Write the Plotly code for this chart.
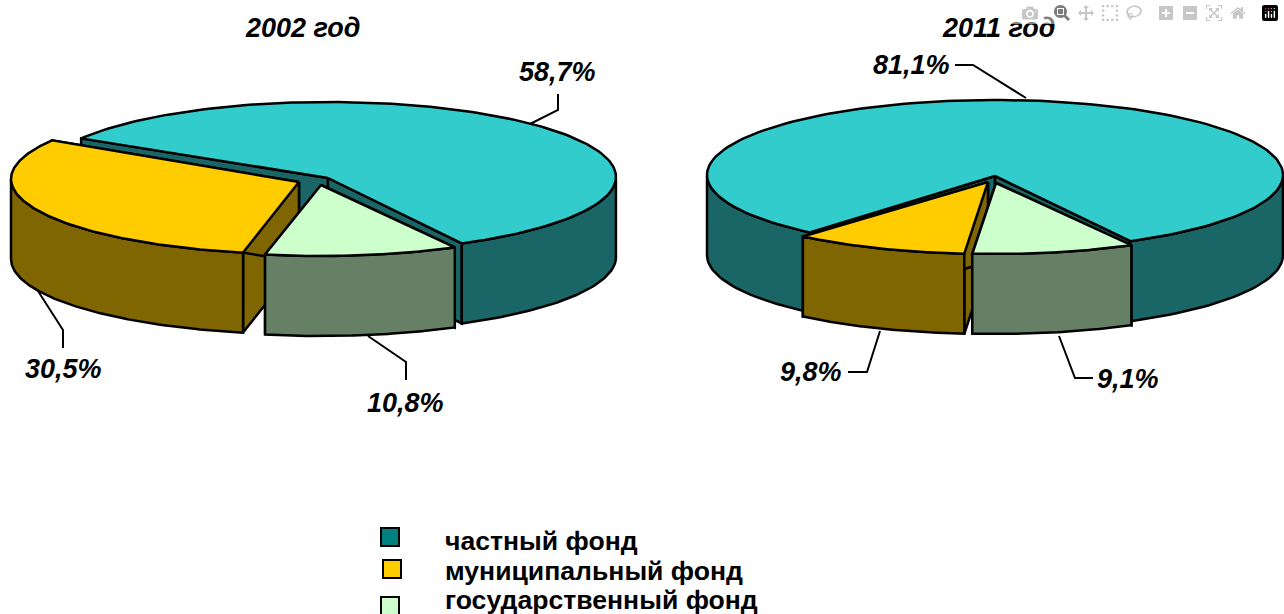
import numpy as np
import plotly.graph_objects as go

# shares in the order they run clockwise round each pie
names = ["частный фонд", "государственный фонд", "муниципальный фонд"]
shares_2002 = [58.7, 10.8, 30.5]
shares_2011 = [81.1, 9.1, 9.8]
titles = ["2002 год", "2011 год"]
legend_order = ["частный фонд", "муниципальный фонд", "государственный фонд"]

top_colors = {"частный фонд": "#33CCCC", "муниципальный фонд": "#FFCC00", "государственный фонд": "#CCFFCC"}
side_colors = {"частный фонд": "#1A6666", "муниципальный фонд": "#806600", "государственный фонд": "#668066"}
legend_colors = {"частный фонд": "#008080", "муниципальный фонд": "#FFCC00", "государственный фонд": "#CCFFCC"}

RX, RY, DEPTH = 288, 75, 80
LINE = 2.5


def pct(v):
    return f"{v:.1f}".replace(".", ",") + "%"


def add_poly(fig, xs, ys, color):
    fig.add_trace(go.Scatter(
        x=xs, y=ys, mode="lines", fill="toself", fillcolor=color,
        line=dict(color="black", width=LINE), hoverinfo="skip", showlegend=False
    ))


def draw_slice(fig, cx, cy, apex_y, t0, t1, name):
    # t0 > t1, degrees, going clockwise on the projected ellipse
    t = np.radians(np.linspace(t0, t1, 160))
    rim_x = cx + RX * np.cos(t)
    rim_y = cy - RY * np.sin(t)

    # flat cut faces first, the covering pieces come later
    for i in (0, -1):
        add_poly(fig, [cx, rim_x[i], rim_x[i], cx, cx],
                 [apex_y, rim_y[i], rim_y[i] + DEPTH, apex_y + DEPTH, apex_y],
                 side_colors[name])

    # outer wall, only where the rim faces the viewer
    front = np.sin(t) < 0
    idx = np.where(front)[0]
    if len(idx):
        runs = np.split(idx, np.where(np.diff(idx) > 1)[0] + 1)
        for run in runs:
            xs = np.concatenate([rim_x[run], rim_x[run][::-1], rim_x[run][:1]])
            ys = np.concatenate([rim_y[run], rim_y[run][::-1] + DEPTH, rim_y[run][:1]])
            add_poly(fig, xs, ys, side_colors[name])

    add_poly(fig, np.concatenate([[cx], rim_x, [cx]]),
             np.concatenate([[apex_y], rim_y, [apex_y]]), top_colors[name])


def draw_pie(fig, shares, start, geometry):
    spans = {}
    t = start
    for name, share in zip(names, shares):
        spans[name] = (t, t - share * 3.6)
        t -= share * 3.6
    # back piece first, the pulled-out ones sit in front of it
    for name in ["частный фонд", "муниципальный фонд", "государственный фонд"]:
        cx, cy, apex_y = geometry[name]
        draw_slice(fig, cx, cy, apex_y, spans[name][0], spans[name][1], name)


fig = go.Figure()

draw_pie(fig, shares_2002, 149, {
    "частный фонд": (328, 177, 178),
    "муниципальный фонд": (299, 179, 182),
    "государственный фонд": (321, 181, 185),
})
draw_pie(fig, shares_2011, 230, {
    "частный фонд": (995, 175, 176),
    "муниципальный фонд": (988, 179, 182),
    "государственный фонд": (996, 179, 183),
})

# leader lines from the slices to their labels
leaders = [
    ([530, 558, 558], [124, 110, 94]),
    ([38, 63, 63], [291, 330, 348]),
    ([368, 406, 406], [336, 362, 380]),
    ([1026, 973, 955], [98, 65, 65]),
    ([880, 867, 848], [331, 372, 372]),
    ([1059, 1075, 1093], [336, 378, 378]),
]
for lx, ly in leaders:
    fig.add_trace(go.Scatter(x=lx, y=ly, mode="lines", line=dict(color="black", width=2),
                             hoverinfo="skip", showlegend=False))

label_font = dict(family="Liberation Sans", size=27, color="black")
labels = [
    (557, 72, shares_2002[0]), (405, 403, shares_2002[1]), (63, 369, shares_2002[2]),
    (911, 65, shares_2011[0]), (1128, 379, shares_2011[1]), (811, 372, shares_2011[2]),
]
for x, y, v in labels:
    fig.add_annotation(x=x, y=y, text=f"<b><i>{pct(v)}</i></b>", showarrow=False, font=label_font)
for x, title in zip([303, 998], titles):
    fig.add_annotation(x=x, y=28, text=f"<b><i>{title}</i></b>", showarrow=False, font=label_font)

# legend on the canvas: wide gap between swatch and text, so no built-in legend
for (mx, my, ty), name in zip([(390, 537, 541), (392, 569, 571), (390, 606, 600)], legend_order):
    fig.add_trace(go.Scatter(x=[mx], y=[my], mode="markers", name=name,
                             marker=dict(symbol="square", size=18, color=legend_colors[name],
                                         line=dict(color="black", width=2)),
                             hoverinfo="skip", showlegend=False))
    fig.add_annotation(x=443, y=ty, text=f"<b>{name}</b>", showarrow=False, xanchor="left",
                       font=dict(family="Liberation Sans", size=26.6, color="black"))

fig.update_layout(
    width=1284, height=614, margin=dict(l=0, r=0, t=0, b=0),
    paper_bgcolor="white", plot_bgcolor="white", showlegend=False,
    xaxis=dict(range=[0, 1284], visible=False),
    yaxis=dict(range=[614, 0], visible=False),
)

# drop the page's default body margin so the figure fills the window
fig.write_html("out.html", post_script="document.body.style.margin = '0';")
